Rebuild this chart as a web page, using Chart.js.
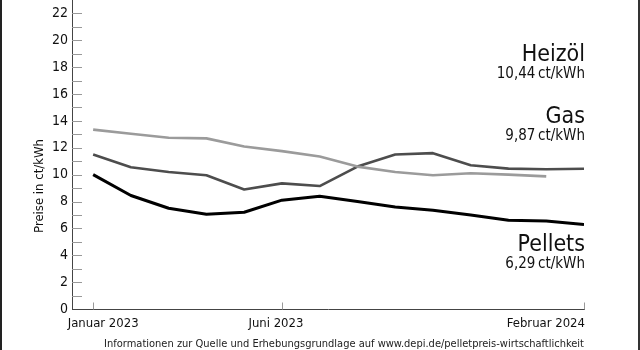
<!DOCTYPE html>
<html>
<head>
<meta charset="utf-8">
<script src="https://cdn.jsdelivr.net/npm/chart.js@4"></script>
<style>
  html, body { margin: 0; padding: 0; background: #fff; }
  #wrap { position: relative; width: 640px; height: 350px; box-sizing: border-box;
          border-left: 2px solid #222; border-right: 2px solid #333; }
  canvas { position: absolute; left: -2px; top: 0; }
</style>
</head>
<body>
<div id="wrap"><canvas id="chart" width="640" height="350"></canvas></div>
<script>
"use strict";

// Monthly prices, Jan 2023 .. Feb 2024
const months = ["Januar 2023", "Februar 2023", "März 2023", "April 2023", "Mai 2023", "Juni 2023",
  "Juli 2023", "August 2023", "September 2023", "Oktober 2023", "November 2023", "Dezember 2023",
  "Januar 2024", "Februar 2024"];
const heizoel = [11.5, 10.55, 10.2, 9.95, 8.9, 9.35, 9.15, 10.6, 11.5, 11.6, 10.7, 10.45, 10.4, 10.44];
const gas = [13.35, 13.05, 12.75, 12.7, 12.1, 11.75, 11.35, 10.6, 10.2, 9.95, 10.1, 10.0, 9.87, null];
const pellets = [10.0, 8.45, 7.5, 7.05, 7.2, 8.1, 8.4, 8.0, 7.6, 7.35, 7.0, 6.6, 6.55, 6.29];

// which months get an x label
const shownMonths = [0, 5, 13];

// labels on the right side
const seriesNames = ["Heizöl", "Gas", "Pellets"];
const seriesValues = ["10,44", "9,87", "6,29"];

const FONT = "'DejaVu Sans Condensed', 'DejaVu Sans', sans-serif";

function points(arr) {
  return arr.map((v, i) => ({ x: i, y: v }));
}

const decorations = {
  id: "decorations",
  afterDraw(chart) {
    const ctx = chart.ctx;
    const xs = chart.scales.x;
    const ys = chart.scales.y;
    const area = chart.chartArea;
    ctx.save();

    // y tick marks inside the plot
    ctx.strokeStyle = "#999";
    ctx.lineWidth = 1;
    for (let v = 1; v <= 22; v++) {
      const py = Math.round(ys.getPixelForValue(v)) + 0.5;
      ctx.beginPath();
      ctx.moveTo(area.left, py);
      ctx.lineTo(area.left + 10, py);
      ctx.stroke();
    }

    // x ticks pointing up
    const base = Math.round(ys.getPixelForValue(0)) + 0.5;
    shownMonths.forEach(i => {
      const px = Math.round(xs.getPixelForValue(i)) + 0.5;
      ctx.beginPath();
      ctx.moveTo(px, base);
      ctx.lineTo(px, base - 7);
      ctx.stroke();
    });

    // x labels
    ctx.fillStyle = "#111";
    ctx.font = "13px " + FONT;
    ctx.textBaseline = "top";
    ctx.textAlign = "center";
    ctx.fillText(months[0], xs.getPixelForValue(0) + 10, base + 8);
    ctx.fillText(months[5], xs.getPixelForValue(5) - 6, base + 8);
    ctx.textAlign = "right";
    ctx.fillText(months[13], xs.getPixelForValue(13) + 1, base + 8);

    // footnote
    ctx.font = "11px " + FONT;
    ctx.fillStyle = "#222";
    ctx.textAlign = "right";
    ctx.fillText("Informationen zur Quelle und Erhebungsgrundlage auf www.depi.de/pelletpreis-wirtschaftlichkeit",
      584, base + 29);

    // y axis title
    ctx.save();
    ctx.translate(40, 186);
    ctx.rotate(-Math.PI / 2);
    ctx.textAlign = "center";
    ctx.textBaseline = "middle";
    ctx.font = "13px " + FONT;
    ctx.fillStyle = "#111";
    ctx.fillText("Preise in ct/kWh", 0, 0);
    ctx.restore();

    // series labels on the right
    const nameY = [61, 123, 251];
    ctx.textAlign = "right";
    ctx.textBaseline = "alphabetic";
    ctx.fillStyle = "#111";
    seriesNames.forEach((n, k) => {
      ctx.font = "23px " + FONT;
      ctx.fillText(n, 585, nameY[k]);
      ctx.font = "15px " + FONT;
      ctx.fillText(seriesValues[k] + "\u2009ct/kWh", 585, nameY[k] + 17);
    });

    ctx.restore();
  }
};

new Chart(document.getElementById("chart"), {
  type: "line",
  data: {
    datasets: [
      { label: "Gas", data: points(gas), borderColor: "#9b9b9b", borderWidth: 2.6 },
      { label: "Heizöl", data: points(heizoel), borderColor: "#4d4d4d", borderWidth: 2.6 },
      { label: "Pellets", data: points(pellets), borderColor: "#000", borderWidth: 3 }
    ]
  },
  options: {
    responsive: false,
    animation: false,
    events: [],
    layout: { padding: { top: 0, right: 56, left: 0, bottom: 0 } },
    elements: { point: { radius: 0 }, line: { tension: 0, borderJoinStyle: "round", borderCapStyle: "butt" } },
    plugins: { legend: { display: false }, tooltip: { enabled: false } },
    scales: {
      x: {
        type: "linear",
        min: -0.56,
        max: 13,
        grid: { display: false, drawTicks: false },
        border: { color: "#444", width: 1 },
        ticks: { display: false },
        afterFit(s) { s.height = 41; s.paddingLeft = 0; s.paddingRight = 0; }
      },
      y: {
        min: 0,
        max: 23,
        grid: { display: false, drawTicks: false },
        border: { color: "#444", width: 1 },
        ticks: {
          stepSize: 2,
          padding: 4,
          autoSkip: false,
          includeBounds: false,
          color: "#111",
          font: { family: FONT, size: 14 }
        },
        afterFit(s) { s.width = 72; s.paddingTop = 0; s.paddingBottom = 0; }
      }
    }
  },
  plugins: [decorations]
});
</script>
</body>
</html>
